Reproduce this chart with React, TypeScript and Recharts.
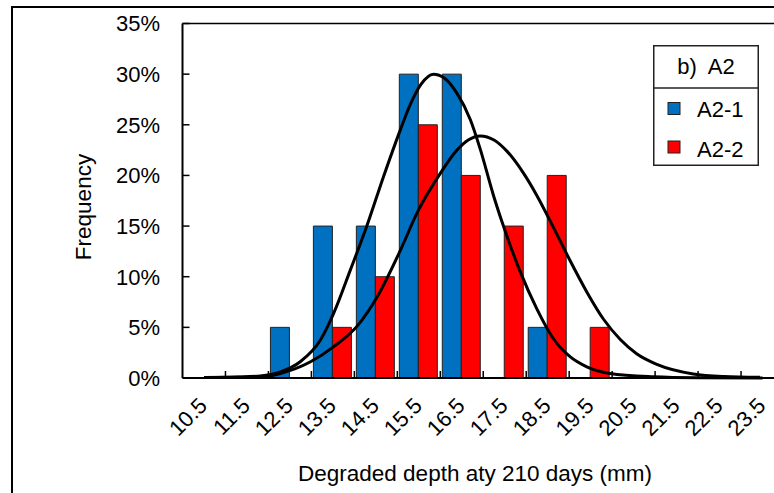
import React from 'react';
import {
  ComposedChart, Bar, Line, XAxis, YAxis, ReferenceLine, Label,
} from 'recharts';

// bins (mm) and frequencies (%)
const BINS = ['10.5', '11.5', '12.5', '13.5', '14.5', '15.5', '16.5', '17.5', '18.5', '19.5', '20.5', '21.5', '22.5', '23.5'];
const A2_1 = [0, 0, 5, 15, 15, 30, 30, 0, 5, 0, 0, 0, 0, 0];
const A2_2 = [0, 0, 0, 5, 10, 25, 20, 15, 20, 5, 0, 0, 0, 0];
const Y_TICKS = [0, 5, 10, 15, 20, 25, 30, 35];

// fitted curves
const FIT1_X = [10.5, 11.3, 11.81, 12.28, 12.74, 13.21, 13.52, 13.91, 14.29, 14.68, 15.07, 15.3, 15.55, 15.84, 16.1, 16.39, 16.7, 16.93, 17.24, 17.47, 17.86, 18.25, 18.63, 19.02, 19.41, 19.95, 20.96, 22.0, 23.5];
const FIT1_Y = [0.05, 0.1, 0.2, 0.6, 1.6, 3.75, 6.4, 10.7, 15.0, 19.9, 24.5, 27.0, 29.0, 30.0, 29.6, 28.1, 25.5, 22.6, 18.0, 15.0, 10.5, 6.8, 3.9, 2.1, 1.1, 0.45, 0.13, 0.03, 0];
const FIT2_X = [10.5, 11.81, 12.28, 12.98, 13.52, 14.06, 14.53, 15.07, 15.46, 16.0, 16.39, 16.65, 16.93, 17.25, 17.55, 17.94, 18.25, 18.63, 19.02, 19.41, 19.8, 20.19, 20.57, 21.04, 21.89, 22.6, 23.44];
const FIT2_Y = [0.05, 0.1, 0.45, 1.6, 3.1, 5.1, 8.0, 12.6, 16.3, 20.2, 22.5, 23.5, 23.9, 23.5, 22.4, 20.2, 18.0, 14.9, 11.6, 8.5, 5.8, 3.8, 2.4, 1.35, 0.4, 0.15, 0.07];

const BLUE = '#0070C0';
const RED = '#FF0000';
const FONT = '"Liberation Sans", Arial, sans-serif';

const CHART_W = 820;
const CHART_H = 493;
const PLOT_LEFT = 182.5;
const PLOT_RIGHT = 784;
const PLOT_BOTTOM = 378;
const BAND = (PLOT_RIGHT - PLOT_LEFT) / BINS.length;

const data = BINS.map((bin, i) => ({ bin, a1: A2_1[i], a2: A2_2[i] }));
const fit1 = FIT1_X.map((x, i) => ({ x, y: FIT1_Y[i] }));
const fit2 = FIT2_X.map((x, i) => ({ x, y: FIT2_Y[i] }));

const XTick = (props: any) => {
  const { x, payload } = props;
  const tx = x + 4.5;
  const ty = 407;
  return (
    <g>
      <line x1={x + BAND / 2} x2={x + BAND / 2} y1={PLOT_BOTTOM} y2={PLOT_BOTTOM - 7} stroke="#000" strokeWidth={1.5} />
      <text x={tx} y={ty} transform={`rotate(-45, ${tx}, ${ty})`} textAnchor="end" fontSize={22} fill="#000">
        {payload.value}
      </text>
    </g>
  );
};

const YTick = (props: any) => {
  const { y, payload } = props;
  return (
    <g>
      <line x1={PLOT_LEFT} x2={PLOT_LEFT + 7} y1={y} y2={y} stroke="#000" strokeWidth={1.5} />
      <text x={160} y={y} dy="0.36em" textAnchor="end" fontSize={22} fill="#000">
        {`${payload.value}%`}
      </text>
    </g>
  );
};

const LegendBox = () => (
  <svg width={108} height={123} style={{ position: 'absolute', left: 652, top: 44, fontFamily: FONT }}>
    <rect x={1.75} y={1.75} width={104.5} height={119.5} fill="#fff" stroke="#222" strokeWidth={1.5} />
    <line x1={1} x2={107} y1={44} y2={44} stroke="#222" strokeWidth={1.5} />
    <text x={54} y={30} textAnchor="middle" fontSize={22} xmlSpace="preserve">b)  A2</text>
    <rect x={16} y={58.5} width={12} height={12} fill={BLUE} stroke="#222" strokeWidth={1} />
    <text x={45} y={73} fontSize={22}>A2-1</text>
    <rect x={16} y={97} width={12} height={12} fill={RED} stroke="#222" strokeWidth={1} />
    <text x={45} y={112.5} fontSize={22}>A2-2</text>
  </svg>
);

export default function App() {
  return (
    <div style={{ position: 'absolute', left: 0, top: 0, width: 774, height: 493, overflow: 'hidden', background: '#fff', fontFamily: FONT }}>
      <div style={{ position: 'absolute', left: 11, top: 6, width: 900, height: 600, border: '2px solid #000' }} />
      <div style={{ position: 'absolute', left: 0, top: 0 }}>
        <ComposedChart
          width={CHART_W}
          height={CHART_H}
          data={data}
          margin={{ top: 23.5, right: CHART_W - PLOT_RIGHT, left: PLOT_LEFT - 60, bottom: 55 }}
          barCategoryGap={2}
          barGap={0}
        >
          <XAxis
            dataKey="bin"
            interval={0}
            height={60}
            axisLine={{ stroke: '#000', strokeWidth: 2 }}
            tickLine={false}
            tick={<XTick />}
          >
            <Label
              content={() => (
                <text x={475} y={481} textAnchor="middle" fontSize={22.5} fill="#000">
                  Degraded depth aty 210 days (mm)
                </text>
              )}
            />
          </XAxis>
          <XAxis xAxisId="num" type="number" dataKey="x" domain={[10, 24]} hide allowDataOverflow />
          <YAxis
            type="number"
            domain={[0, 35]}
            ticks={Y_TICKS}
            width={60}
            axisLine={{ stroke: '#000', strokeWidth: 2 }}
            tickLine={false}
            tick={<YTick />}
          >
            <Label
              content={() => (
                <text x={91} y={207} transform="rotate(-90, 91, 207)" textAnchor="middle" fontSize={22.5} fill="#000">
                  Frequency
                </text>
              )}
            />
          </YAxis>
          <ReferenceLine y={35} stroke="#000" strokeWidth={1.5} />
          <Bar dataKey="a1" name="A2-1" fill={BLUE} stroke="#222" strokeWidth={1} isAnimationActive={false} />
          <Bar dataKey="a2" name="A2-2" fill={RED} stroke="#222" strokeWidth={1} isAnimationActive={false} />
          <Line xAxisId="num" data={fit1} dataKey="y" type="monotone" stroke="#000" strokeWidth={3} dot={false} activeDot={false} legendType="none" isAnimationActive={false} />
          <Line xAxisId="num" data={fit2} dataKey="y" type="monotone" stroke="#000" strokeWidth={3} dot={false} activeDot={false} legendType="none" isAnimationActive={false} />
        </ComposedChart>
      </div>
      <LegendBox />
    </div>
  );
}
